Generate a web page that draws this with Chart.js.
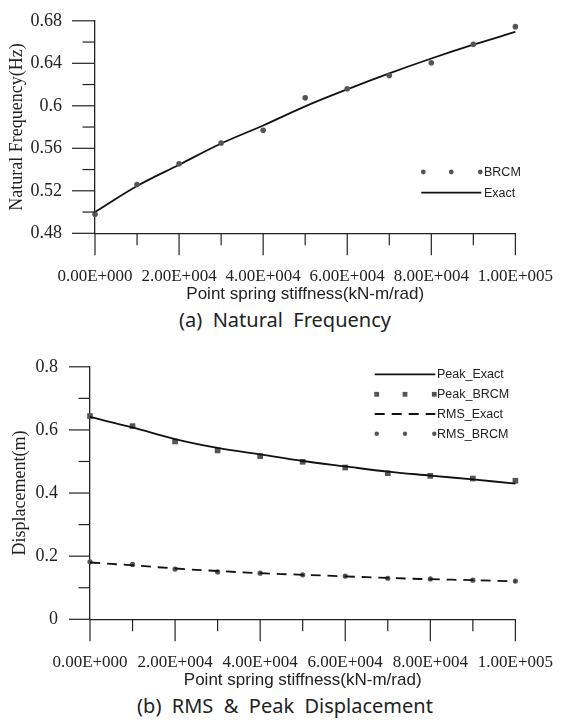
<!DOCTYPE html>
<html>
<head>
<meta charset="utf-8">
<script src="https://cdn.jsdelivr.net/npm/chart.js@4.4.1/dist/chart.umd.min.js"></script>
<style>
  html, body { margin: 0; padding: 0; background: #fff; }
  body { width: 564px; height: 728px; position: relative; overflow: hidden; }
  .box { position: absolute; left: 0; width: 564px; }
  .caption {
    position: absolute; left: 0; width: 570px; text-align: center;
    font-family: 'Noto Sans', sans-serif; font-size: 20px; color: #222;
    white-space: pre; line-height: 20px;
  }
</style>
</head>
<body>
<div class="box" style="top:0"><canvas id="chartFreq" width="564" height="305"></canvas></div>
<div class="caption" style="top:310px">(a)  Natural  Frequency</div>
<div class="box" style="top:345px"><canvas id="chartDisp" width="564" height="346"></canvas></div>
<div class="caption" style="top:696px">(b)  RMS  &amp;  Peak  Displacement</div>

<script>
// Data
const stiffness = [0, 10000, 20000, 30000, 40000, 50000, 60000, 70000, 80000, 90000, 100000];
const xTickLabels = ['0.00E+000', '', '2.00E+004', '', '4.00E+004', '', '6.00E+004', '', '8.00E+004', '', '1.00E+005'];

const freqBrcm = [0.498, 0.526, 0.5455, 0.565, 0.577, 0.6075, 0.616, 0.6285, 0.6405, 0.658, 0.6745];
const freqExact = [0.500, 0.5245, 0.5445, 0.5645, 0.5815, 0.5995, 0.6155, 0.6305, 0.6445, 0.6575, 0.6695];
const freqTickLabels = ['0.48', '', '0.52', '', '0.56', '', '0.6', '', '0.64', '', '0.68'];

const peakExact = [0.641, 0.608, 0.571, 0.543, 0.5225, 0.5015, 0.4845, 0.468, 0.4555, 0.443, 0.430];
const peakBrcm = [0.644, 0.612, 0.5635, 0.535, 0.517, 0.499, 0.481, 0.463, 0.4545, 0.446, 0.439];
const rmsExact = [0.180, 0.171, 0.161, 0.153, 0.146, 0.141, 0.136, 0.131, 0.127, 0.124, 0.120];
const rmsBrcm = [0.182, 0.174, 0.159, 0.150, 0.146, 0.141, 0.137, 0.130, 0.128, 0.124, 0.121];
const dispTickLabels = ['0', '', '0.2', '', '0.4', '', '0.6', '', '0.8'];

const INK = '#222222';
const MARKER = '#555555';

function toPoints(ys) {
    return stiffness.map((x, i) => ({ x: x, y: ys[i] }));
}

// Long ticks where there is a label, short ticks in between
const tickMarks = {
    id: 'tickMarks',
    afterDraw(chart) {
        const ctx = chart.ctx;
        ctx.save();
        ctx.strokeStyle = INK;
        ctx.lineWidth = 1.2;
        ['x', 'y'].forEach(id => {
            const scale = chart.scales[id];
            const long = scale.options.grid.tickLength;
            scale.ticks.forEach(t => {
                const len = t.label ? long : long / 2 + 1;
                const p = scale.getPixelForValue(t.value);
                ctx.beginPath();
                if (id === 'x') {
                    ctx.moveTo(p, scale.top);
                    ctx.lineTo(p, scale.top + len);
                } else {
                    ctx.moveTo(scale.right, p);
                    ctx.lineTo(scale.right - len, p);
                }
                ctx.stroke();
            });
        });
        ctx.restore();
    }
};

function drawMarker(ctx, style, r, x, y) {
    ctx.beginPath();
    if (style === 'rect') {
        const s = r * Math.SQRT1_2;
        ctx.rect(x - s, y - s, 2 * s, 2 * s);
    } else {
        ctx.arc(x, y, r, 0, Math.PI * 2);
    }
    ctx.fill();
}

// Excel-like legend: three markers or a line sample, then the text
const sampleLegend = {
    id: 'sampleLegend',
    afterDraw(chart, args, opts) {
        const ctx = chart.ctx;
        ctx.save();
        ctx.font = '12.5px "Liberation Sans"';
        ctx.textBaseline = 'middle';
        chart.data.datasets.forEach((ds, i) => {
            const y = opts.rows[i];
            if (ds.showLine) {
                ctx.strokeStyle = ds.borderColor;
                ctx.lineWidth = ds.borderWidth;
                ctx.setLineDash(ds.borderDash || []);
                ctx.beginPath();
                ctx.moveTo(opts.x0, y);
                ctx.lineTo(opts.x1, y);
                ctx.stroke();
                ctx.setLineDash([]);
            } else {
                ctx.fillStyle = ds.pointBackgroundColor;
                const r = ds.pointRadius * 0.85;
                [opts.x0 + 2, (opts.x0 + opts.x1) / 2, opts.x1 - 1].forEach(mx => {
                    drawMarker(ctx, ds.pointStyle, r, mx, y);
                });
            }
            ctx.fillStyle = INK;
            ctx.fillText(ds.label, opts.textX, y + 0.5);
        });
        ctx.restore();
    }
};

function makeChart(canvasId, cfg) {
    return new Chart(document.getElementById(canvasId), {
        type: 'scatter',
        data: { datasets: cfg.datasets },
        plugins: [tickMarks, sampleLegend],
        options: {
            responsive: false,
            animation: false,
            layout: { padding: cfg.padding },
            plugins: {
                legend: { display: false },
                tooltip: { enabled: false },
                sampleLegend: cfg.legend
            },
            scales: {
                x: {
                    type: 'linear',
                    min: 0,
                    max: 100000,
                    grid: { display: false, drawTicks: true, tickLength: 22 },
                    border: { display: true, color: INK, width: 1.3 },
                    ticks: {
                        stepSize: 10000,
                        autoSkip: false,
                        maxRotation: 0,
                        padding: 11,
                        color: INK,
                        font: { family: 'Liberation Serif', size: 17 },
                        callback: (v, i) => xTickLabels[i]
                    },
                    title: {
                        display: true,
                        text: 'Point spring stiffness(kN-m/rad)',
                        color: INK,
                        font: { family: 'Liberation Sans', size: 17 },
                        padding: { top: 0, bottom: 0 }
                    },
                    afterFit: s => { s.height = cfg.xHeight; }
                },
                y: {
                    type: 'linear',
                    min: cfg.yMin,
                    max: cfg.yMax,
                    grid: { display: false, drawTicks: true, tickLength: cfg.yTick },
                    border: { display: true, color: INK, width: 1.3 },
                    ticks: {
                        stepSize: cfg.yStep,
                        autoSkip: false,
                        padding: cfg.yPad,
                        color: INK,
                        font: { family: 'Liberation Serif', size: 18 },
                        callback: (v, i) => cfg.yLabels[i]
                    },
                    title: {
                        display: true,
                        text: cfg.yTitle,
                        color: INK,
                        font: { family: 'Liberation Serif', size: 18 },
                        padding: { top: cfg.yTitlePad, bottom: 0 }
                    },
                    afterFit: s => { s.width = cfg.yWidth; }
                }
            }
        }
    });
}

// (a) Natural frequency
makeChart('chartFreq', {
    datasets: [
        {
            label: 'BRCM',
            data: toPoints(freqBrcm),
            showLine: false,
            pointStyle: 'circle',
            pointRadius: 2.8,
            pointBackgroundColor: MARKER,
            pointBorderWidth: 0,
            clip: false
        },
        {
            label: 'Exact',
            data: toPoints(freqExact),
            showLine: true,
            pointRadius: 0,
            borderColor: '#111111',
            borderWidth: 1.8,
            tension: 0.35,
            clip: false
        }
    ],
    padding: { top: 13.3, right: 39, bottom: 0, left: 0 },
    xHeight: 71.7,
    yWidth: 95,
    yMin: 0.48,
    yMax: 0.68,
    yStep: 0.02,
    yLabels: freqTickLabels,
    yTick: 23,
    yPad: 10,
    yTitle: 'Natural Frequency(Hz)',
    yTitlePad: 6.7,
    legend: { x0: 421.3, x1: 481.3, textX: 484, rows: [172, 192.7] }
});

// (b) RMS & peak displacement
makeChart('chartDisp', {
    datasets: [
        {
            label: 'Peak_Exact',
            data: toPoints(peakExact),
            showLine: true,
            pointRadius: 0,
            borderColor: '#111111',
            borderWidth: 1.8,
            tension: 0.35,
            clip: false
        },
        {
            label: 'Peak_BRCM',
            data: toPoints(peakBrcm),
            showLine: false,
            pointStyle: 'rect',
            pointRadius: 4,
            pointBackgroundColor: MARKER,
            pointBorderWidth: 0,
            clip: false
        },
        {
            label: 'RMS_Exact',
            data: toPoints(rmsExact),
            showLine: true,
            pointRadius: 0,
            borderColor: '#111111',
            borderWidth: 1.8,
            borderDash: [10, 7],
            tension: 0.35,
            clip: false
        },
        {
            label: 'RMS_BRCM',
            data: toPoints(rmsBrcm),
            showLine: false,
            pointStyle: 'circle',
            pointRadius: 2.6,
            pointBackgroundColor: MARKER,
            pointBorderWidth: 0,
            clip: false
        }
    ],
    padding: { top: 15, right: 44, bottom: 0, left: 0 },
    xHeight: 71.7,
    yWidth: 90,
    yMin: 0,
    yMax: 0.8,
    yStep: 0.1,
    yLabels: dispTickLabels,
    yTick: 21,
    yPad: 11,
    yTitle: 'Displacement(m)',
    yTitlePad: 9.2,
    legend: { x0: 374.7, x1: 435.3, textX: 437, rows: [29.3, 49.3, 69, 88.7] }
});
</script>
</body>
</html>
